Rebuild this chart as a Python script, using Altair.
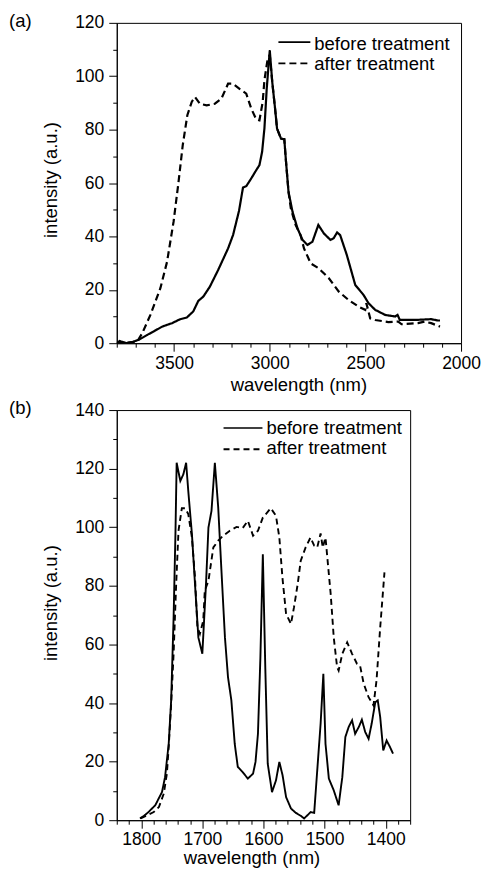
import altair as alt
import pandas as pd

FONT = "Liberation Sans"
series = ["before treatment", "after treatment"]

# ---------- panel (a) ----------
a_before_wl = [3800, 3785, 3770, 3750, 3720, 3684, 3641, 3607, 3563, 3511, 3468, 3434, 3400, 3374, 3347,
               3313, 3270, 3218, 3192, 3161, 3140, 3123, 3097, 3071, 3054, 3040, 3028, 3016, 3000, 2987,
               2974, 2962, 2941, 2924, 2915, 2902, 2881, 2855, 2829, 2803, 2777, 2746, 2717, 2683, 2666,
               2648, 2632, 2597, 2553, 2510, 2484, 2449, 2397, 2345, 2332, 2320, 2242, 2156, 2121, 2110]
a_before_int = [0, 0.8, 0.5, 0, 0.4, 1.3, 3.1, 4.4, 6.2, 7.5, 9.0, 9.6, 11.9, 15.8, 17.5,
                21.2, 27.4, 35.5, 40.5, 49.5, 58.3, 58.8, 61.7, 64.8, 66.7, 71.7, 80.4, 95.3, 109.7, 97.8,
                89.1, 80.4, 76.6, 76.4, 67.9, 56.7, 49.2, 43.0, 38.7, 36.8, 38.0, 44.3, 41.1, 38.7, 39.3,
                41.5, 40.5, 33.0, 21.8, 18.1, 15.0, 12.5, 10.6, 10.0, 10.6, 8.7, 8.7, 9.0, 8.5, 8.5]
a_after_wl = [3800, 3765, 3693, 3667, 3624, 3572, 3537, 3503, 3477, 3455, 3431, 3408, 3391, 3365, 3330,
              3287, 3253, 3218, 3192, 3158, 3123, 3097, 3071, 3054, 3037, 3028, 3011, 3000, 2987, 2974,
              2962, 2941, 2924, 2915, 2902, 2890, 2865, 2839, 2821, 2786, 2743, 2691, 2639, 2588, 2536,
              2501, 2495, 2475, 2449, 2380, 2328, 2311, 2225, 2190, 2156, 2110]
a_after_int = [0, 0, 0.6, 3.7, 10.6, 20.6, 30.5, 45.5, 60.4, 74.2, 85.4, 90.4, 92.2, 89.7, 89.1,
               89.7, 91.6, 97.2, 97.2, 95.3, 93.5, 87.9, 83.9, 83.5, 90.4, 98.5, 106.5, 108.0, 97.8, 89.1,
               80.4, 76.6, 76.4, 67.9, 56.7, 50.5, 44.3, 40.5, 35.5, 29.9, 28.0, 24.3, 19.3, 16.2, 13.7,
               12.5, 15.0, 9.3, 8.7, 7.9, 8.1, 7.1, 7.5, 8.1, 7.5, 6.2]

# ---------- panel (b) ----------
b_before_wl = [1802, 1796, 1788, 1777, 1766, 1761, 1755, 1751, 1747, 1744, 1742, 1736, 1731, 1726.5, 1723,
               1717, 1712, 1706.5, 1700, 1694, 1690, 1685, 1679.5, 1674, 1669, 1663, 1658, 1652.5, 1647,
               1642, 1634, 1625.5, 1617, 1613, 1609, 1605, 1601, 1597, 1593, 1586, 1579.5, 1574, 1568.7,
               1563, 1555, 1547, 1539, 1533.5, 1528, 1522.6, 1517, 1512, 1506.5, 1502, 1498.5, 1493, 1485,
               1477, 1471, 1466, 1460.6, 1455, 1450, 1444, 1439, 1433.5, 1428, 1423, 1417, 1413, 1409,
               1404, 1398.5, 1393, 1388]
b_before_int = [0.6, 1.4, 2.8, 5.1, 9.6, 14.7, 26.1, 40.9, 69.2, 97.6, 122.0, 115.8, 118.1, 122.0, 112.4,
                97.6, 80.6, 62.4, 56.8, 80.6, 99.9, 105.6, 122.0, 106.7, 86.3, 62.4, 48.8, 40.9, 26.1,
                18.2, 16.4, 14.2, 15.9, 19.9, 29.5, 55.6, 90.8, 52.2, 19.3, 9.6, 13.6, 19.9, 15.3,
                7.9, 4.0, 2.5, 1.5, 0.6, 1.7, 2.8, 2.5, 17.0, 32.9, 50.0, 26.1, 14.2, 10.2,
                5.1, 14.7, 28.4, 31.8, 34.1, 29.5, 31.8, 34.3, 30.1, 27.8, 32.9, 40.3, 40.9, 35.2,
                23.8, 27.2, 25.0, 22.7]
b_after_wl = [1801, 1790, 1779.5, 1771, 1763, 1758, 1755, 1751, 1747, 1743, 1739, 1733.5, 1728, 1723, 1717,
              1712, 1708, 1704, 1698.5, 1696, 1690, 1682, 1674, 1666, 1655, 1644, 1634, 1625.5, 1617,
              1609, 1601, 1596, 1588, 1579.5, 1574, 1569, 1563, 1555, 1550, 1544, 1539, 1531, 1523,
              1517, 1512, 1506.5, 1503, 1498.5, 1496, 1490, 1485, 1479.5, 1477, 1471, 1463, 1455, 1447,
              1442, 1436, 1428, 1420, 1415, 1409, 1402]
b_after_int = [0.6, 1.7, 2.8, 4.5, 9.1, 15.9, 25.0, 39.7, 56.8, 79.5, 98.8, 106.5, 106.5, 104.5, 96.5,
               82.9, 65.8, 63.6, 68.1, 78.3, 81.7, 93.1, 95.4, 97.1, 98.8, 100.1, 99.7, 102.2, 97.1,
               98.8, 103.3, 104.5, 106.5, 103.9, 96.5, 82.9, 70.4, 67.0, 72.7, 80.6, 88.6, 93.1, 96.5,
               93.7, 93.1, 97.9, 93.1, 96.5, 90.8, 77.2, 62.4, 52.2, 51.1, 56.8, 60.7, 56.8, 53.4,
               52.8, 46.6, 42.0, 39.2, 47.7, 65.8, 84.6]

a_x_domain = [3800, 2000]
a_y_domain = [0, 120]
b_x_domain = [1840, 1360]
b_y_domain = [0, 140]
a_x_ticks = list(range(3800, 1999, -100))
a_y_ticks = list(range(0, 121, 10))
b_x_ticks = list(range(1840, 1359, -20))
b_y_ticks = list(range(0, 141, 10))


def long_df(bw, bi, aw, ai):
    return pd.concat([
        pd.DataFrame({"wl": bw, "intensity": bi, "series": series[0]}),
        pd.DataFrame({"wl": aw, "intensity": ai, "series": series[1]}),
    ], ignore_index=True)


def panel(df, label, xdom, ydom, xticks, yticks, xmajor, w, h, dash, sw,
          leg_x, leg_len, leg_y1, leg_y2, txt_y1, txt_y2, xtitle_x, xtitle_y, ytitle_y, xlab_pad):
    x_axis = alt.Axis(
        values=xticks, format="d",
        labelExpr=f"datum.value % {xmajor} === 0 ? datum.label : ''",
        tickSize={"condition": {"test": f"datum.value % {xmajor} === 0", "value": 8}, "value": 4},
        labelPadding=xlab_pad, labelOverlap=False, labelFlush=False,
        title="wavelength (nm)", titleX=xtitle_x, titleY=xtitle_y, titleBaseline="alphabetic",
        titleAlign="center",
    )
    y_axis = alt.Axis(
        values=yticks, format="d",
        labelExpr="datum.value % 20 === 0 ? datum.label : ''",
        tickSize={"condition": {"test": "datum.value % 20 === 0", "value": 8}, "value": 4},
        labelPadding=5, labelOverlap=False, labelFlush=False,
        title="intensity (a.u.)", titleX=-56, titleY=ytitle_y, titleBaseline="bottom",
        titleAlign="center", titleAngle=270,
    )
    lines = alt.Chart(df).mark_line(color="black", strokeWidth=sw, clip=True).encode(
        x=alt.X("wl:Q", scale=alt.Scale(domain=xdom, nice=False, zero=False), axis=x_axis),
        y=alt.Y("intensity:Q", scale=alt.Scale(domain=ydom, nice=False), axis=y_axis),
        strokeDash=alt.StrokeDash("series:N", scale=alt.Scale(domain=series, range=[[1, 0], dash]),
                                  legend=None),
    )
    one = pd.DataFrame({"series": [series[0]]})
    two = pd.DataFrame({"series": [series[1]]})
    r1 = alt.Chart(one).mark_rule(color="black", strokeWidth=1.6).encode(
        x=alt.value(leg_x), x2=alt.value(leg_x + leg_len), y=alt.value(leg_y1))
    r2 = alt.Chart(two).mark_rule(color="black", strokeWidth=1.8, strokeDash=dash).encode(
        x=alt.value(leg_x), x2=alt.value(leg_x + leg_len), y=alt.value(leg_y2))
    t1 = alt.Chart(one).mark_text(align="left", baseline="alphabetic", font=FONT, fontSize=18.5,
                                  color="black").encode(
        x=alt.value(leg_x + leg_len + 4), y=alt.value(txt_y1), text="series:N")
    t2 = alt.Chart(two).mark_text(align="left", baseline="alphabetic", font=FONT, fontSize=18.5,
                                  color="black").encode(
        x=alt.value(leg_x + leg_len + 4), y=alt.value(txt_y2), text="series:N")
    lab = alt.Chart(pd.DataFrame({"label": [label]})).mark_text(
        align="left", baseline="middle", font=FONT, fontSize=18.5, color="black").encode(
        x=alt.value(-108), y=alt.value(-1.7), text="label:N")
    return alt.layer(lines, r1, r2, t1, t2, lab).properties(width=w, height=h)


pa = panel(long_df(a_before_wl, a_before_int, a_after_wl, a_after_int), "(a)",
           a_x_domain, a_y_domain, a_x_ticks, a_y_ticks, 500, 345, 321, [7, 4], 2.2,
           162, 32, 19.3, 40.6, 27.0, 47.6, 182, 47.5, 157, 3)
pb = panel(long_df(b_before_wl, b_before_int, b_after_wl, b_after_int), "(b)",
           b_x_domain, b_y_domain, b_x_ticks, b_y_ticks, 100, 294, 411, [6, 4], 1.9,
           107, 39, 18, 39.3, 24.3, 44.3, 135, 43.5, 193, 2)

chart = alt.vconcat(pa, pb, spacing=3).resolve_scale(
    x="independent", y="independent", strokeDash="independent"
).configure(
    padding={"left": 8, "top": 10, "right": 0, "bottom": 0}
).configure_view(
    stroke="black", strokeWidth=1
).configure_axis(
    grid=False, domainColor="black", tickColor="black", labelColor="black", titleColor="black",
    domainWidth=1, tickWidth=1, labelFont=FONT, titleFont=FONT, labelFontSize=17.5,
    titleFontSize=18.5, titleFontWeight="normal",
)

chart.save("out.html", embed_options={"renderer": "svg", "actions": False})
